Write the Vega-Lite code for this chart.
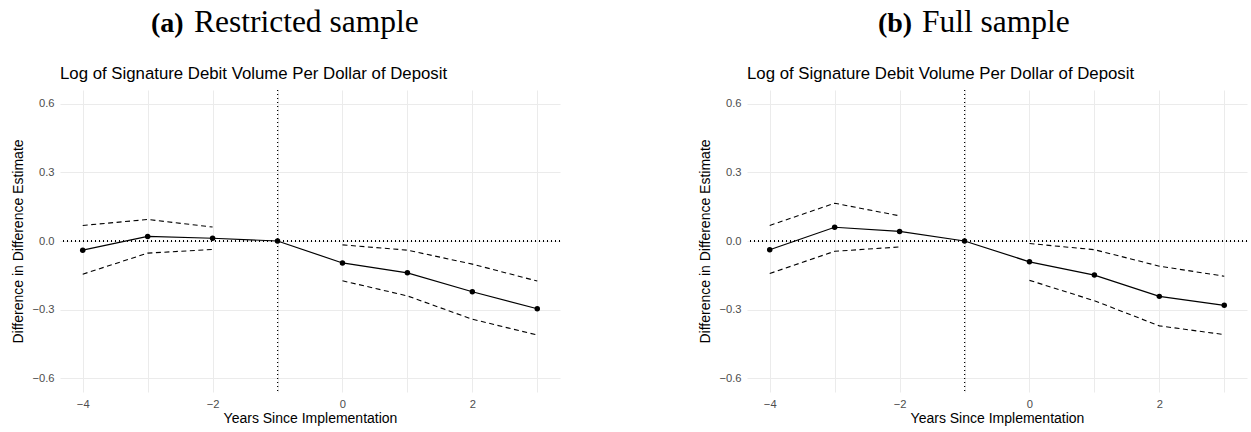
{
  "$schema": "https://vega.github.io/schema/vega-lite/v6.json",
  "background": "white",
  "padding": {"left": 11, "top": 7, "right": 0, "bottom": 0},
  "spacing": 137,
  "datasets": {
    "restricted": [
      {"year": -4, "period": "pre", "est": -0.040, "lo": -0.145, "hi": 0.068},
      {"year": -3, "period": "pre", "est": 0.020, "lo": -0.053, "hi": 0.094},
      {"year": -2, "period": "pre", "est": 0.012, "lo": -0.037, "hi": 0.061},
      {"year": -1, "period": "ref", "est": 0.000, "lo": null, "hi": null},
      {"year": 0, "period": "post", "est": -0.096, "lo": -0.174, "hi": -0.017},
      {"year": 1, "period": "post", "est": -0.139, "lo": -0.240, "hi": -0.040},
      {"year": 2, "period": "post", "est": -0.222, "lo": -0.342, "hi": -0.101},
      {"year": 3, "period": "post", "est": -0.296, "lo": -0.411, "hi": -0.175}
    ],
    "full": [
      {"year": -4, "period": "pre", "est": -0.038, "lo": -0.142, "hi": 0.068},
      {"year": -3, "period": "pre", "est": 0.060, "lo": -0.045, "hi": 0.165},
      {"year": -2, "period": "pre", "est": 0.042, "lo": -0.026, "hi": 0.110},
      {"year": -1, "period": "ref", "est": 0.000, "lo": null, "hi": null},
      {"year": 0, "period": "post", "est": -0.091, "lo": -0.172, "hi": -0.011},
      {"year": 1, "period": "post", "est": -0.149, "lo": -0.261, "hi": -0.038},
      {"year": 2, "period": "post", "est": -0.242, "lo": -0.371, "hi": -0.110},
      {"year": 3, "period": "post", "est": -0.281, "lo": -0.409, "hi": -0.154}
    ]
  },
  "hconcat": [
    {
      "title": {"text": "(a)", "font": "Liberation Serif", "fontSize": 28, "fontWeight": "bold", "color": "black", "anchor": "start", "frame": "bounds", "baseline": "alphabetic", "dx": 139, "dy": 53, "offset": 0},
      "vconcat": [
        {
          "title": {"text": "Restricted sample", "font": "Liberation Serif", "fontSize": 31.5, "fontWeight": "normal", "color": "black", "anchor": "start", "frame": "bounds", "baseline": "alphabetic", "dx": 182, "offset": 2},
          "vconcat": [
            {
              "width": 500,
              "height": 302,
              "title": {"text": "Log of Signature Debit Volume Per Dollar of Deposit", "font": "Liberation Sans", "fontSize": 16.8, "fontWeight": "normal", "color": "black", "anchor": "start", "frame": "group", "baseline": "alphabetic", "offset": -6},
              "data": {"name": "restricted"},
              "resolve": {"axis": {"x": "independent"}},
              "layer": [
                {"mark": {"type": "rule", "color": "black", "strokeWidth": 1, "strokeDash": [1, 3]}, "encoding": {"y": {"datum": 0, "type": "quantitative"}}},
                {
                  "mark": {"type": "rule", "color": "black", "strokeWidth": 1, "strokeDash": [1, 3]},
                  "encoding": {"x": {"datum": -1, "type": "quantitative",
                    "axis": {"orient": "top", "values": [-4, -3, -2, -1, 0, 1, 2, 3], "labels": false, "ticks": false, "domain": false, "grid": true, "title": null}}}
                },
                {
                  "transform": [{"fold": ["lo", "hi"], "as": ["bound", "ci"]}, {"filter": "datum.ci != null"}],
                  "mark": {"type": "line", "color": "black", "strokeWidth": 1.1, "strokeDash": [5, 3.5]},
                  "encoding": {
                    "x": {"field": "year", "type": "quantitative", "axis": null},
                    "y": {"field": "ci", "type": "quantitative"},
                    "detail": [{"field": "period"}, {"field": "bound"}]
                  }
                },
                {
                  "mark": {"type": "line", "color": "black", "strokeWidth": 1.2},
                  "encoding": {
                    "x": {"field": "year", "type": "quantitative", "scale": {"domain": [-4.35, 3.35], "nice": false, "zero": false},
                      "axis": {"orient": "bottom", "tickCount": 4, "grid": false, "labelOverlap": false, "title": "Years Since Implementation"}},
                    "y": {"field": "est", "type": "quantitative", "scale": {"domain": [-0.66, 0.66], "nice": false, "zero": false},
                      "axis": {"values": [-0.6, -0.45, -0.3, -0.15, 0, 0.15, 0.3, 0.45, 0.6], "labelOverlap": false, "labelExpr": "round(datum.value * 100) % 30 == 0 ? format(datum.value, '.1f') : ''", "title": "Difference in Difference Estimate"}}
                  }
                },
                {
                  "mark": {"type": "point", "filled": true, "color": "black", "size": 30, "opacity": 1},
                  "encoding": {
                    "x": {"field": "year", "type": "quantitative", "axis": null},
                    "y": {"field": "est", "type": "quantitative"}
                  }
                }
              ]
            }
          ]
        }
      ]
    },
    {
      "title": {"text": "(b)", "font": "Liberation Serif", "fontSize": 28, "fontWeight": "bold", "color": "black", "anchor": "start", "frame": "bounds", "baseline": "alphabetic", "dx": 179, "dy": 53, "offset": 0},
      "vconcat": [
        {
          "title": {"text": "Full sample", "font": "Liberation Serif", "fontSize": 31.5, "fontWeight": "normal", "color": "black", "anchor": "start", "frame": "bounds", "baseline": "alphabetic", "dx": 223, "offset": 2},
          "vconcat": [
            {
              "width": 500,
              "height": 302,
              "title": {"text": "Log of Signature Debit Volume Per Dollar of Deposit", "font": "Liberation Sans", "fontSize": 16.8, "fontWeight": "normal", "color": "black", "anchor": "start", "frame": "group", "baseline": "alphabetic", "offset": -6},
              "data": {"name": "full"},
              "resolve": {"axis": {"x": "independent"}},
              "layer": [
                {"mark": {"type": "rule", "color": "black", "strokeWidth": 1, "strokeDash": [1, 3]}, "encoding": {"y": {"datum": 0, "type": "quantitative"}}},
                {
                  "mark": {"type": "rule", "color": "black", "strokeWidth": 1, "strokeDash": [1, 3]},
                  "encoding": {"x": {"datum": -1, "type": "quantitative",
                    "axis": {"orient": "top", "values": [-4, -3, -2, -1, 0, 1, 2, 3], "labels": false, "ticks": false, "domain": false, "grid": true, "title": null}}}
                },
                {
                  "transform": [{"fold": ["lo", "hi"], "as": ["bound", "ci"]}, {"filter": "datum.ci != null"}],
                  "mark": {"type": "line", "color": "black", "strokeWidth": 1.1, "strokeDash": [5, 3.5]},
                  "encoding": {
                    "x": {"field": "year", "type": "quantitative", "axis": null},
                    "y": {"field": "ci", "type": "quantitative"},
                    "detail": [{"field": "period"}, {"field": "bound"}]
                  }
                },
                {
                  "mark": {"type": "line", "color": "black", "strokeWidth": 1.2},
                  "encoding": {
                    "x": {"field": "year", "type": "quantitative", "scale": {"domain": [-4.35, 3.35], "nice": false, "zero": false},
                      "axis": {"orient": "bottom", "tickCount": 4, "grid": false, "labelOverlap": false, "title": "Years Since Implementation"}},
                    "y": {"field": "est", "type": "quantitative", "scale": {"domain": [-0.66, 0.66], "nice": false, "zero": false},
                      "axis": {"values": [-0.6, -0.45, -0.3, -0.15, 0, 0.15, 0.3, 0.45, 0.6], "labelOverlap": false, "labelExpr": "round(datum.value * 100) % 30 == 0 ? format(datum.value, '.1f') : ''", "title": "Difference in Difference Estimate"}}
                  }
                },
                {
                  "mark": {"type": "point", "filled": true, "color": "black", "size": 30, "opacity": 1},
                  "encoding": {
                    "x": {"field": "year", "type": "quantitative", "axis": null},
                    "y": {"field": "est", "type": "quantitative"}
                  }
                }
              ]
            }
          ]
        }
      ]
    }
  ],
  "config": {
    "view": {"stroke": null},
    "axis": {
      "domain": false,
      "ticks": false,
      "grid": true,
      "gridColor": "#ebebeb",
      "gridWidth": 1,
      "labelFont": "Liberation Sans",
      "labelFontSize": 11.2,
      "labelColor": "#4d4d4d",
      "titleFont": "Liberation Sans",
      "titleFontSize": 14,
      "titleFontWeight": "normal",
      "titleColor": "black"
    },
    "axisX": {"labelPadding": 6, "titlePadding": 2},
    "axisY": {"labelPadding": 6, "titlePadding": 6}
  }
}
